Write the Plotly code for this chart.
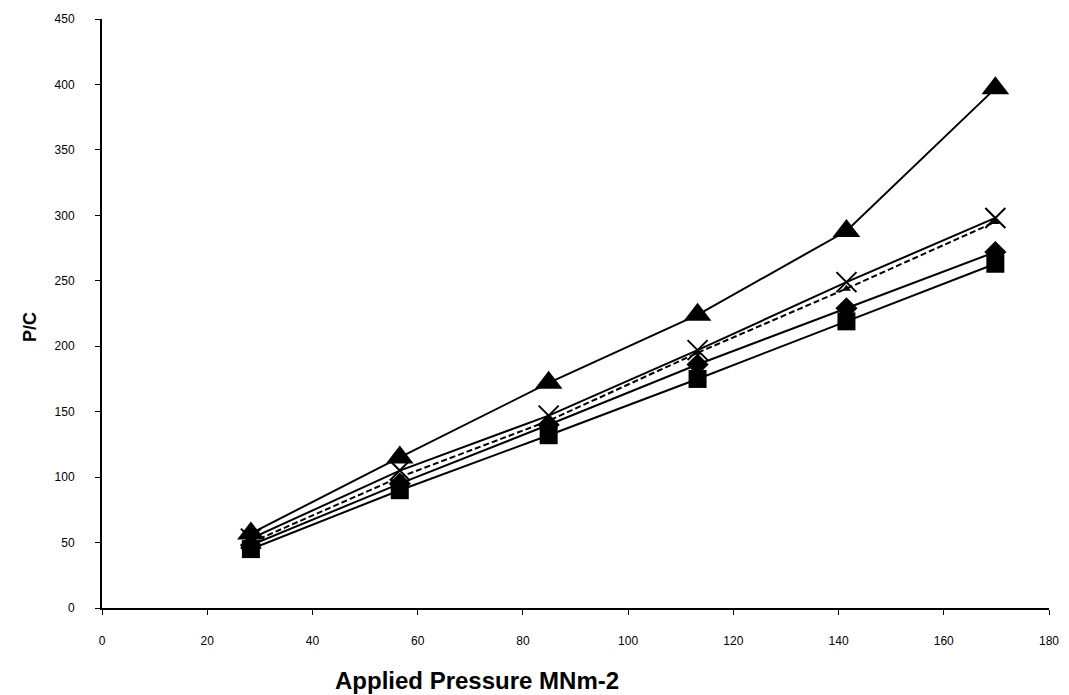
import plotly.graph_objects as go

pressure = [28.3, 56.6, 84.9, 113.2, 141.5, 169.8]
tri_vals = [57, 115, 172, 224, 288, 397]
x_vals = [53, 105, 147, 197, 249, 298]
dash_vals = [50, 100, 143, 195, 244, 295]
diamond_vals = [48, 95, 140, 186, 229, 272]
square_vals = [45, 90, 132, 175, 219, 263]

x_ticks = list(range(0, 181, 20))
y_ticks = list(range(0, 451, 50))

fig = go.Figure()

line = dict(color="black", width=2)

fig.add_trace(go.Scatter(x=pressure, y=square_vals, mode="lines+markers",
                         line=line, marker=dict(symbol="square", size=18, color="black")))
fig.add_trace(go.Scatter(x=pressure, y=diamond_vals, mode="lines+markers",
                         line=line, marker=dict(symbol="diamond", size=17, color="black")))
fig.add_trace(go.Scatter(x=pressure, y=dash_vals, mode="lines+markers",
                         line=dict(color="black", width=2, dash="6px,3px"),
                         marker=dict(symbol="triangle-up", size=8, color="black")))
fig.add_trace(go.Scatter(x=pressure, y=x_vals, mode="lines+markers",
                         line=line, marker=dict(symbol="x-thin", size=20, color="black",
                                                line=dict(color="black", width=2))))
fig.add_trace(go.Scatter(x=pressure, y=tri_vals, mode="lines+markers",
                         line=line, marker=dict(symbol="triangle-up", size=24, color="black")))

# page body has an 8px margin, so the figure is offset by (8, 8)
W, H = 1061, 687
L, R, T, B = 94, 20, 11, 87
fig.update_layout(
    width=W, height=H,
    margin=dict(l=L, r=R, t=T, b=B, autoexpand=False),
    paper_bgcolor="white", plot_bgcolor="white",
    showlegend=False,
    font=dict(family="Liberation Sans, Arial", color="black"),
)
fig.update_xaxes(range=[0, 180], tickvals=x_ticks, showgrid=False, zeroline=False,
                 showline=True, linecolor="black", linewidth=2,
                 ticks="outside", ticklen=5, tickwidth=1, tickcolor="black",
                 ticklabelstandoff=16, tickfont=dict(size=12, color="black"))
fig.update_yaxes(range=[0, 450], tickvals=y_ticks, showgrid=False, zeroline=False,
                 showline=True, linecolor="black", linewidth=2,
                 ticks="outside", ticklen=5, tickwidth=1, tickcolor="black",
                 ticklabelstandoff=18, tickfont=dict(size=12, color="black"))

pw = W - L - R
ph = H - T - B
fig.add_annotation(text="<b>Applied Pressure MNm-2</b>", xref="paper", yref="paper",
                   x=(477 - 102) / pw, y=-(680 - 608) / ph, xanchor="center", yanchor="middle",
                   showarrow=False, font=dict(size=24, color="black", family="Liberation Sans, Arial"))
fig.add_annotation(text="<b>P/C</b>", xref="paper", yref="paper",
                   x=-(102 - 30) / pw, y=(608 - 327) / ph, xanchor="center", yanchor="middle",
                   textangle=-90, showarrow=False,
                   font=dict(size=18, color="black", family="Liberation Sans, Arial"))

fig.write_html("out.html")
